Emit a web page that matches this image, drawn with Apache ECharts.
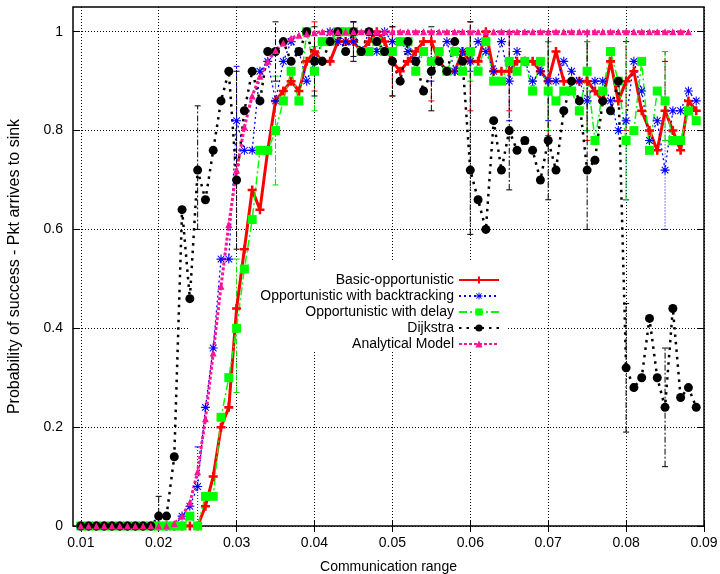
<!DOCTYPE html>
<html>
<head>
    <meta charset="UTF-8">
    <title>Probability of success</title>
    <style>
        html, body { margin: 0; padding: 0; background: #fff; }
        #chart { width: 720px; height: 574px; }
    </style>
    <script src="https://cdn.jsdelivr.net/npm/echarts@6/dist/echarts.min.js"></script>
</head>
<body>
<div id="chart"></div>
<script>
    // communication range values (x)
    var range = [0.010, 0.011, 0.012, 0.013, 0.014, 0.015, 0.016, 0.017, 0.018, 0.019,
        0.020, 0.021, 0.022, 0.023, 0.024, 0.025, 0.026, 0.027, 0.028, 0.029,
        0.030, 0.031, 0.032, 0.033, 0.034, 0.035, 0.036, 0.037, 0.038, 0.039,
        0.040, 0.041, 0.042, 0.043, 0.044, 0.045, 0.046, 0.047, 0.048, 0.049,
        0.050, 0.051, 0.052, 0.053, 0.054, 0.055, 0.056, 0.057, 0.058, 0.059,
        0.060, 0.061, 0.062, 0.063, 0.064, 0.065, 0.066, 0.067, 0.068, 0.069,
        0.070, 0.071, 0.072, 0.073, 0.074, 0.075, 0.076, 0.077, 0.078, 0.079,
        0.080, 0.081, 0.082, 0.083, 0.084, 0.085, 0.086, 0.087, 0.088, 0.089];

    var basic = [0, 0, 0, 0, 0, 0, 0, 0, 0, 0,
        0, 0, 0, 0, 0, 0, 0.04, 0.10, 0.20, 0.24,
        0.44, 0.56, 0.68, 0.64, 0.76, 0.86, 0.88, 0.90, 0.88, 0.94,
        0.96, 0.94, 0.94, 0.98, 0.98, 0.98, 0.96, 0.98, 1.0, 0.98,
        0.94, 0.92, 0.94, 0.96, 0.98, 0.98, 0.94, 0.92, 0.92, 0.96,
        0.94, 0.94, 1.0, 0.92, 0.92, 0.92, 0.94, 0.94, 0.94, 0.92,
        0.90, 0.96, 0.90, 0.90, 0.90, 0.90, 0.88, 0.86, 0.94, 0.86,
        0.90, 0.92, 0.84, 0.80, 0.76, 0.84, 0.80, 0.76, 0.86, 0.84];

    var backtracking = [0, 0, 0, 0, 0, 0, 0, 0, 0, 0,
        0, 0, 0, 0.02, 0.04, 0.08, 0.24, 0.36, 0.54, 0.54,
        0.82, 0.76, 0.76, 0.92, 0.94, 0.86, 0.94, 0.98, 0.96, 0.90,
        0.94, 0.98, 1.0, 0.98, 0.98, 0.98, 0.96, 1.0, 0.96, 1.0,
        0.98, 0.98, 0.96, 0.94, 0.96, 0.94, 0.96, 0.98, 0.92, 0.96,
        0.94, 0.98, 0.96, 0.92, 0.98, 0.90, 0.96, 0.94, 0.90, 0.92,
        0.90, 0.90, 0.94, 0.92, 0.90, 0.86, 0.90, 0.90, 0.86, 0.80,
        0.82, 0.94, 0.88, 0.78, 0.82, 0.72, 0.84, 0.84, 0.88, 0.86];

    var withDelay = [0, 0, 0, 0, 0, 0, 0, 0, 0, 0,
        0, 0, 0, 0, 0.02, 0, 0.06, 0.06, 0.22, 0.30,
        0.40, 0.52, 0.62, 0.76, 0.76, 0.80, 0.86, 0.92, 0.86, 1.0,
        0.92, 0.98, 0.98, 1.0, 1.0, 1.0, 0.96, 0.96, 0.98, 0.96,
        0.96, 0.98, 0.98, 0.92, 0.96, 0.94, 0.96, 0.92, 0.96, 0.92,
        0.96, 0.92, 0.98, 0.90, 0.90, 0.94, 0.92, 0.94, 0.88, 0.94,
        0.88, 0.86, 0.88, 0.88, 0.84, 0.92, 0.78, 0.88, 0.96, 0.90,
        0.78, 0.80, 0.94, 0.76, 0.88, 0.86, 0.78, 0.78, 0.84, 0.82];

    var dijkstra = [0, 0, 0, 0, 0, 0, 0, 0, 0, 0,
        0.02, 0.02, 0.14, 0.64, 0.46, 0.72, 0.66, 0.76, 0.86, 0.92,
        0.70, 0.84, 0.92, 0.86, 0.96, 0.96, 0.98, 0.94, 0.96, 1.0,
        0.94, 0.94, 0.98, 1.0, 0.96, 1.0, 0.96, 1.0, 0.98, 0.96,
        0.94, 0.90, 0.98, 0.94, 0.88, 0.92, 0.94, 0.92, 0.98, 0.94,
        0.72, 0.66, 0.60, 0.82, 0.72, 0.80, 0.76, 0.78, 0.76, 0.70,
        0.78, 0.72, 0.84, 0.90, 0.86, 0.72, 0.74, 0.86, 0.84, 0.90,
        0.32, 0.28, 0.30, 0.42, 0.30, 0.24, 0.44, 0.26, 0.28, 0.24];

    var analytical = [0, 0, 0, 0, 0, 0, 0, 0, 0, 0,
        0, 0, 0.005, 0.02, 0.047, 0.11, 0.217, 0.35, 0.485, 0.61,
        0.72, 0.807, 0.87, 0.91, 0.94, 0.962, 0.977, 0.987, 0.993, 0.996,
        0.998, 1.0, 1.0, 1.0, 1.0, 1.0, 1.0, 1.0, 1.0, 1.0,
        1.0, 1.0, 1.0, 1.0, 1.0, 1.0, 1.0, 1.0, 1.0, 1.0,
        1.0, 1.0, 1.0, 1.0, 1.0, 1.0, 1.0, 1.0, 1.0, 1.0,
        1.0, 1.0, 1.0, 1.0, 1.0, 1.0, 1.0, 1.0, 1.0, 1.0,
        1.0, 1.0, 1.0, 1.0, 1.0, 1.0, 1.0, 1.0, 1.0];

    // error bars: [range, low, high]
    var basicErr = [[0.040, 0.88, 1.02], [0.045, 0.94, 1.02], [0.050, 0.87, 1.01], [0.055, 0.86, 1.0],
        [0.060, 0.84, 1.02], [0.065, 0.84, 1.0], [0.070, 0.79, 0.98], [0.075, 0.78, 0.98],
        [0.080, 0.80, 0.98], [0.085, 0.84, 0.96]];
    var backtrackingErr = [[0.025, 0, 0.16], [0.030, 0.70, 0.93], [0.045, 0.94, 1.02], [0.055, 0.90, 1.0],
        [0.060, 0.92, 1.0], [0.065, 0.82, 1.0], [0.070, 0.82, 0.98], [0.075, 0.80, 0.98],
        [0.080, 0.66, 0.98], [0.085, 0.60, 0.94]];
    var withDelayErr = [[0.030, 0.27, 0.54], [0.035, 0.69, 0.91], [0.040, 0.84, 0.97], [0.060, 0.90, 1.0],
        [0.070, 0.80, 0.98], [0.075, 0.80, 0.98], [0.080, 0.66, 1.0], [0.085, 0.78, 0.96]];
    var dijkstraErr = [[0.020, 0, 0.06], [0.025, 0.60, 0.85], [0.030, 0.56, 0.92], [0.035, 0.90, 1.02],
        [0.040, 0.87, 1.01], [0.045, 0.95, 1.02], [0.050, 0.87, 1.01], [0.055, 0.84, 1.01],
        [0.060, 0.59, 1.02], [0.065, 0.68, 1.0], [0.070, 0.66, 1.0], [0.075, 0.60, 1.0],
        [0.080, 0.19, 0.45], [0.085, 0.12, 0.36]];

    var xTicks = [0.01, 0.02, 0.03, 0.04, 0.05, 0.06, 0.07, 0.08, 0.09];
    var yTicks = [0, 0.2, 0.4, 0.6, 0.8, 1];

    var names = ['Basic-opportunistic', 'Opportunistic with backtracking', 'Opportunistic with delay',
        'Dijkstra', 'Analytical Model'];

    var plusPath = 'path://M3.6,0H6.4V3.6H10V6.4H6.4V10H3.6V6.4H0V3.6H3.6Z';
    var starPath = 'path://M4.4,0H5.6V10H4.4Z M0,4.4H10V5.6H0Z M0.9,1.7L1.7,0.9L9.1,8.3L8.3,9.1Z M8.3,0.9L9.1,1.7L1.7,9.1L0.9,8.3Z';

    function pairs(ys) {
        var out = [];
        for (var i = 0; i < ys.length; i++) out.push([range[i], ys[i]]);
        return out;
    }

    function errSeries(data, color, dash) {
        return {
            type: 'custom',
            data: data,
            z: 1,
            silent: true,
            encode: {x: 0, y: [1, 2]},
            renderItem: function (params, api) {
                var x = api.value(0);
                var lo = api.coord([x, api.value(1)]);
                var hi = api.coord([x, api.value(2)]);
                var st = {stroke: color, lineWidth: 1, lineDash: dash};
                return {
                    type: 'group', children: [
                        {type: 'line', shape: {x1: lo[0], y1: lo[1], x2: hi[0], y2: hi[1]}, style: st},
                        {type: 'line', shape: {x1: lo[0] - 3, y1: lo[1], x2: lo[0] + 3, y2: lo[1]}, style: {stroke: color, lineWidth: 1}},
                        {type: 'line', shape: {x1: hi[0] - 3, y1: hi[1], x2: hi[0] + 3, y2: hi[1]}, style: {stroke: color, lineWidth: 1}}
                    ]
                };
            }
        };
    }

    function lineSeries(name, ys, color, width, dash, symbol, size) {
        return {
            name: name,
            type: 'line',
            data: pairs(ys),
            symbol: symbol,
            symbolSize: size,
            showAllSymbol: true,
            symbolKeepAspect: true,
            z: 2,
            lineStyle: {color: color, width: width, type: dash},
            itemStyle: {color: color, borderWidth: 0}
        };
    }

    function legendRow(name, top) {
        return {
            data: [name],
            right: 220,
            top: top,
            orient: 'vertical',
            align: 'right',
            padding: 0,
            itemWidth: 40,
            itemHeight: 9,
            itemGap: 5,
            selectedMode: false,
            textStyle: {color: '#000', fontSize: 14, fontFamily: 'Liberation Sans'}
        };
    }

    var font = 'Liberation Sans';
    var chart = echarts.init(document.getElementById('chart'), null, {renderer: 'canvas'});

    var tickCommon = {show: true, inside: true, length: 6, lineStyle: {color: '#000', width: 1}};

    chart.setOption({
        animation: false,
        backgroundColor: '#fff',
        grid: {left: 73, right: 16, top: 7, bottom: 48, outerBoundsMode: 'none',
            show: true, borderColor: '#000', borderWidth: 1.5},
        legend: [
            legendRow(names[0], 273),
            legendRow(names[1], 289),
            legendRow(names[2], 305),
            legendRow(names[3], 321),
            legendRow(names[4], 337)
        ],
        graphic: [{
            type: 'rect', z: 1,
            shape: {x: 188, y: 260, width: 320, height: 92},
            style: {fill: '#fff'}
        }],
        xAxis: [{
            type: 'value', min: 0.009, max: 0.09,
            name: 'Communication range', nameLocation: 'middle', nameGap: 34,
            nameTextStyle: {color: '#000', fontSize: 14, fontFamily: font},
            axisLine: {show: false},
            axisTick: Object.assign({customValues: xTicks}, tickCommon),
            axisLabel: {customValues: xTicks, color: '#000', fontSize: 14, fontFamily: font, margin: 10,
                formatter: function (v) { return v.toFixed(2); }},
            splitLine: {show: true, lineStyle: {color: '#000', width: 1, type: [1, 2]}}
        }, {
            type: 'value', min: 0.009, max: 0.09, position: 'top',
            axisLine: {show: false},
            axisTick: Object.assign({customValues: xTicks}, tickCommon),
            axisLabel: {show: false},
            splitLine: {show: false}
        }],
        yAxis: [{
            type: 'value', min: 0, max: 1.05,
            name: 'Probability of success - Pkt arrives to sink', nameLocation: 'middle', nameGap: 50,
            nameTextStyle: {color: '#000', fontSize: 16, fontFamily: font},
            axisLine: {show: false},
            axisTick: Object.assign({customValues: yTicks}, tickCommon),
            axisLabel: {customValues: yTicks, color: '#000', fontSize: 14, fontFamily: font, margin: 10,
                formatter: function (v) { return String(Math.round(v * 10) / 10); }},
            splitLine: {show: true, lineStyle: {color: '#000', width: 1, type: [1, 2]}}
        }, {
            type: 'value', min: 0, max: 1.05, position: 'right',
            axisLine: {show: false},
            axisTick: Object.assign({customValues: yTicks}, tickCommon),
            axisLabel: {show: false},
            splitLine: {show: false}
        }],
        series: [
            errSeries(basicErr, '#ff0000', [5, 3]),
            errSeries(backtrackingErr, '#0000ff', [1, 2]),
            errSeries(withDelayErr, '#00dd00', [6, 2, 2, 2]),
            errSeries(dijkstraErr, '#000000', [6, 2, 2, 2]),
            lineSeries(names[0], basic, '#ff0000', 3, 'solid', plusPath, 9),
            lineSeries(names[1], backtracking, '#0000ff', 1.3, [2, 3], starPath, 9),
            lineSeries(names[2], withDelay, '#00ff00', 1.5, [8, 3, 2, 3], 'rect', 9),
            lineSeries(names[3], dijkstra, '#000000', 2.5, [2.5, 5], 'circle', 9),
            lineSeries(names[4], analytical, '#ff1493', 3, [3, 2], 'triangle', 7)
        ]
    });
</script>
</body>
</html>
